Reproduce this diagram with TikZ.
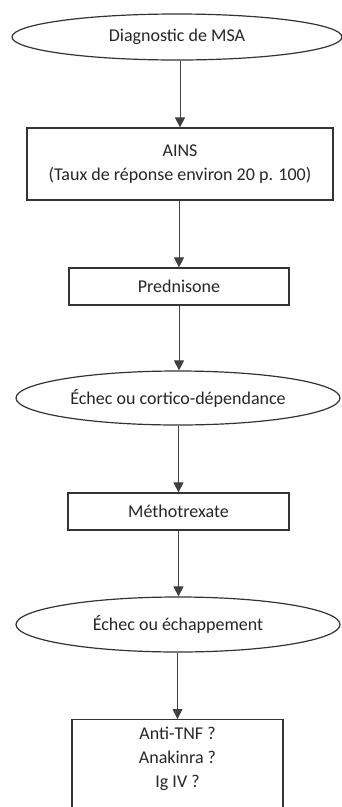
\documentclass[tikz,border=0pt]{standalone}
\usepackage{fontspec}
\setmainfont{Carlito}
\usetikzlibrary{shapes.geometric,arrows.meta}
\begin{document}
\begin{tikzpicture}[x=1pt,y=-1pt,
  every node/.style={font=\fontsize{18}{24}\selectfont, text=black!85, align=center, inner sep=0pt},
  oval/.style={draw=black!80, line width=1.2pt, ellipse},
  box/.style={draw=black!80, line width=1.2pt, rectangle},
  arr/.style={draw=black!75, line width=0.9pt, -{Triangle[length=10pt,width=10pt]}}]
\useasboundingbox (0,0) rectangle (342,807);
\fill[white] (0,0) rectangle (342,807);
\clip (0,0) rectangle (342,807);
\node[oval, minimum width=330, minimum height=46] (diag) at (177,37) {Diagnostic de MSA};
\node[box, minimum width=306, minimum height=72] (ains) at (180,164) {AINS\\(Taux de réponse environ 20 p. 100)};
\node[box, minimum width=220, minimum height=37] (pred) at (179,286.5) {Prednisone};
\node[oval, minimum width=324, minimum height=54] (ech1) at (178,398) {Échec ou cortico-dépendance};
\node[box, minimum width=221, minimum height=37] (metho) at (178.5,511.5) {Méthotrexate};
\node[oval, minimum width=324, minimum height=55] (ech2) at (178,624.5) {Échec ou échappement};
\node[box, minimum width=211, minimum height=110, anchor=north] (anti) at (177.5,719) {};
\node[anchor=north] (antitxt) at (177.5,727) {Anti-TNF ?\\Anakinra ?\\Ig IV ?};
\draw[arr] (ains.north |- diag.south) -- (ains.north);
\draw[arr] (pred.north |- ains.south) -- (pred.north);
\draw[arr] (pred.south) -- (pred.south |- ech1.north);
\draw[arr] (metho.north |- ech1.south) -- (metho.north);
\draw[arr] (metho.south) -- (metho.south |- ech2.north);
\draw[arr] (anti.north |- ech2.south) -- (anti.north);
\end{tikzpicture}
\end{document}
